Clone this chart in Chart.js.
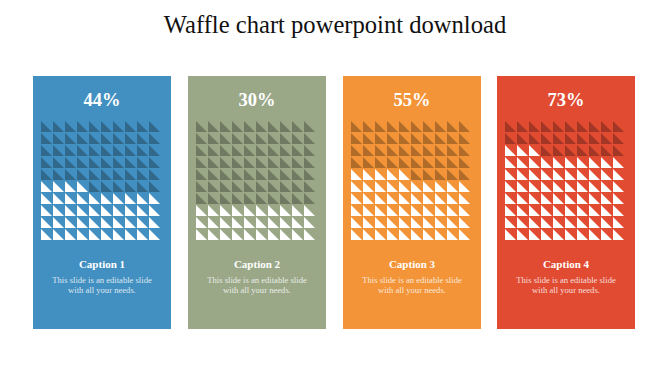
<!DOCTYPE html>
<html lang="en">
  <head>
    <meta charset="UTF-8" />
    <title>Waffle chart powerpoint download</title>
    <script src="https://cdn.jsdelivr.net/npm/chart.js"></script>
    <style>
      body { margin: 0; background: #fff; width: 670px; height: 376px; position: relative; overflow: hidden; }
      h1 {
        position: absolute; left: 0; top: 11px; width: 670px; margin: 0;
        text-align: center; font: 400 24.6px "Liberation Serif", serif; color: #111;
      }
      .panel { position: absolute; top: 76px; width: 138px; height: 253px; }
      .pct {
        position: absolute; left: 0; top: 14px; width: 100%; text-align: center;
        font: 700 18.5px "Liberation Serif", serif; color: #fff;
      }
      .panel canvas { position: absolute; left: 8px; top: 45px; }
      .cap {
        position: absolute; left: 0; top: 182px; width: 100%; text-align: center;
        font: 700 11px "Liberation Serif", serif; color: #fff;
      }
      .txt {
        position: absolute; left: 0; top: 199px; width: 100%; text-align: center;
        font: 400 8.6px/10px "Liberation Serif", serif; color: rgba(255, 255, 255, 0.82);
      }
    </style>
  </head>
  <body>
    <h1>Waffle chart powerpoint download</h1>
    <div id="panels"></div>

    <script>
      // values
      const percents = [44, 30, 55, 73];
      const captions = ["Caption 1", "Caption 2", "Caption 3", "Caption 4"];
      const bodyText = ["This slide is an editable slide", "with all your needs."];
      const panelColors = ["#4290c1", "#9aa888", "#f29437", "#e04b32"];
      const panelLeft = [33, 188, 343, 497];
      const gridCols = 10;
      const gridRows = 10;

      // right triangle used as point style (corner at bottom-left)
      function triangle(color) {
        const c = document.createElement("canvas");
        c.width = 12;
        c.height = 12;
        const ctx = c.getContext("2d");
        ctx.fillStyle = color;
        ctx.beginPath();
        ctx.moveTo(0, 0);
        ctx.lineTo(0, 11);
        ctx.lineTo(11, 11);
        ctx.closePath();
        ctx.fill();
        return c;
      }

      const whiteTri = triangle("#ffffff");
      const darkTri = triangle("rgba(0,0,0,0.27)");

      function cells(pct) {
        const on = [];
        const off = [];
        for (let row = 0; row < gridRows; row++) {
          for (let col = 0; col < gridCols; col++) {
            const i = row * gridCols + col;
            (i < pct ? on : off).push({ x: col, y: row });
          }
        }
        return { on, off };
      }

      const wrap = document.getElementById("panels");

      percents.forEach((pct, k) => {
        const panel = document.createElement("div");
        panel.className = "panel";
        panel.style.left = panelLeft[k] + "px";
        panel.style.background = panelColors[k];
        panel.innerHTML = `
          <div class="pct">${pct}%</div>
          <canvas width="120" height="120"></canvas>
          <div class="cap">${captions[k]}</div>
          <div class="txt">${bodyText[0]}<br />${bodyText[1]}</div>
        `;
        wrap.appendChild(panel);

        const grid = cells(pct);
        new Chart(panel.querySelector("canvas"), {
          type: "scatter",
          data: {
            datasets: [
              { data: grid.off, pointStyle: darkTri, pointRadius: 6, clip: false },
              { data: grid.on, pointStyle: whiteTri, pointRadius: 6, clip: false },
            ],
          },
          options: {
            responsive: false,
            animation: false,
            events: [],
            layout: { padding: 0, autoPadding: false },
            scales: {
              x: { type: "linear", min: -0.5, max: gridCols - 0.5, display: false },
              y: { type: "linear", min: -0.5, max: gridRows - 0.5, display: false },
            },
            plugins: { legend: { display: false }, tooltip: { enabled: false } },
          },
        });
      });
    </script>
  </body>
</html>
